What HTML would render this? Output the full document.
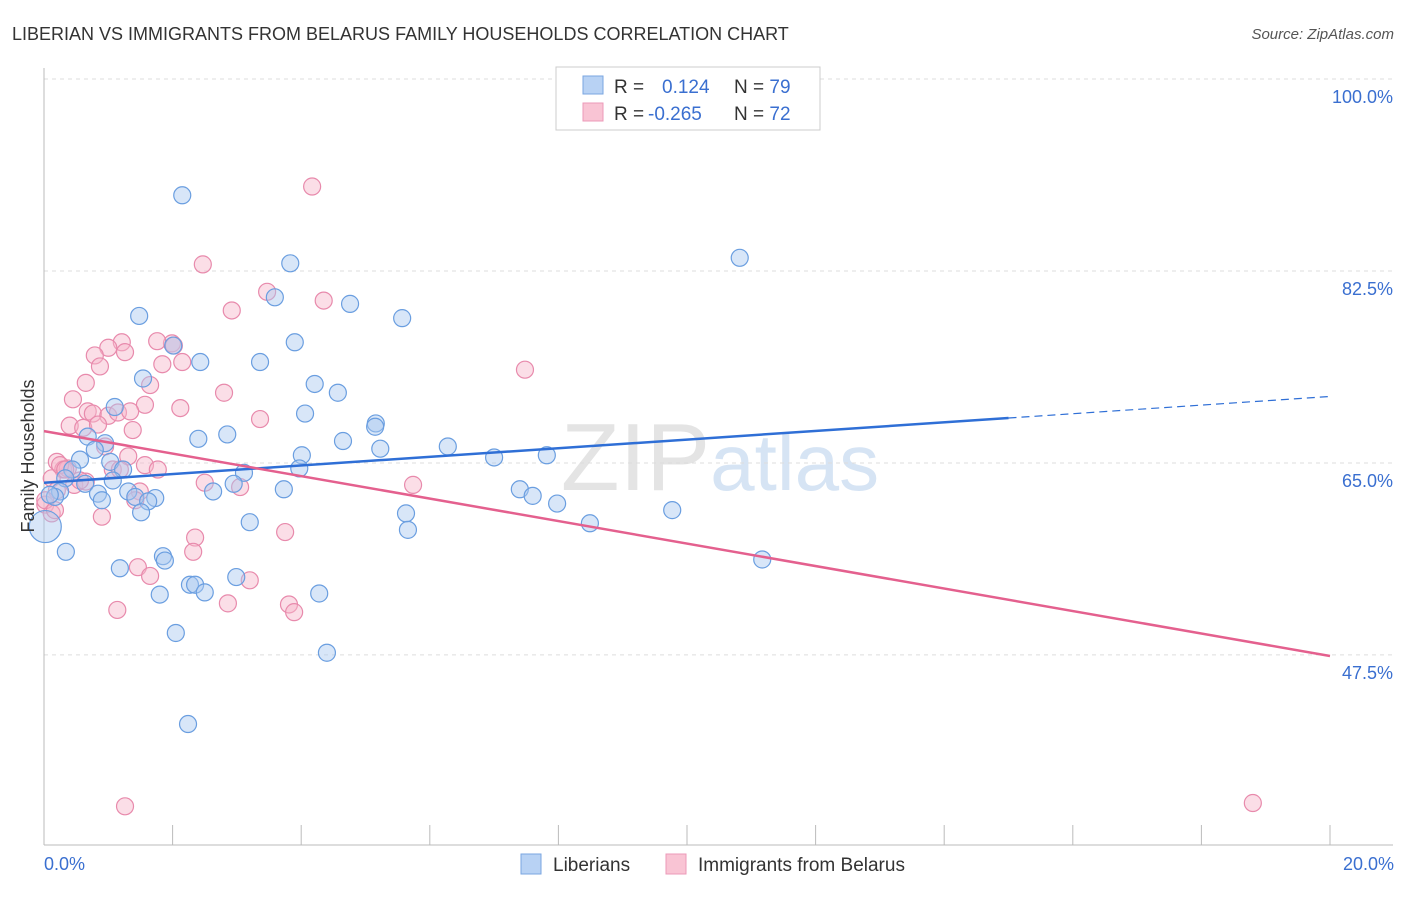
<!DOCTYPE html>
<html><head><meta charset="utf-8"><style>
body{margin:0;background:#fff;font-family:"Liberation Sans",sans-serif}
svg text{font-family:"Liberation Sans",sans-serif}
</style></head><body>
<svg id="chart" width="1406" height="892" xmlns="http://www.w3.org/2000/svg">
<text x="12" y="40" font-size="18" fill="#333">LIBERIAN VS IMMIGRANTS FROM BELARUS FAMILY HOUSEHOLDS CORRELATION CHART</text>
<text x="1394" y="39" font-size="15" fill="#555" text-anchor="end" font-style="italic">Source: ZipAtlas.com</text>
<text x="720" y="490" font-size="96" text-anchor="middle" fill="#e4e4e4" font-family="Liberation Serif"><tspan>ZIP</tspan><tspan fill="#d6e4f4" font-family="Liberation Sans" font-size="80">atlas</tspan></text>
<g id="grid"></g>
<g id="axes"></g>
<g id="points"></g>
<g id="trends"></g>
<text transform="translate(34,456) rotate(-90)" font-size="18" fill="#333" text-anchor="middle">Family Households</text>
<text x="44" y="870" font-size="18" fill="#3a6fd0">0.0%</text>
<text x="1394" y="870" font-size="18" fill="#3a6fd0" text-anchor="end">20.0%</text>
<g>
<rect x="556" y="67" width="264" height="63" fill="#fff" stroke="#ccc"/>
<rect x="583" y="76" width="20" height="18" fill="#b8d2f4" stroke="#7aa6e0"/>
<rect x="583" y="103" width="20" height="18" fill="#f9c4d4" stroke="#ec9ab8"/>
<text x="614" y="93" font-size="19" fill="#333">R = <tspan fill="#3a6fd0" x="662">0.124</tspan><tspan x="734">N = </tspan><tspan fill="#3a6fd0">79</tspan></text>
<text x="614" y="120" font-size="19" fill="#333">R = <tspan fill="#3a6fd0" x="648">-0.265</tspan><tspan x="734">N = </tspan><tspan fill="#3a6fd0">72</tspan></text>
</g>
<g>
<rect x="521" y="854" width="20" height="20" fill="#b8d2f4" stroke="#7aa6e0"/>
<text x="553" y="871" font-size="19" fill="#333">Liberians</text>
<rect x="666" y="854" width="20" height="20" fill="#f9c4d4" stroke="#ec9ab8"/>
<text x="698" y="871" font-size="19" fill="#333">Immigrants from Belarus</text>
</g>
</svg>
<script>
const yTicks=[100,82.5,65,47.5];
const yTickLabels=["100.0%","82.5%","65.0%","47.5%"];
const xTicks=[0,2,4,6,8,10,12,14,16,18,20];
const blueX=[2.15,10.82,3.83,3.59,4.76,5.57,1.48,3.90,2.01,2.43,3.36,1.54,4.21,4.57,1.10,4.06,5.16,5.15,2.40,2.85,4.65,5.23,6.28,0.68,0.95,0.79,0.56,1.03,4.01,7.00,7.82,3.97,3.11,1.23,0.44,0.33,0.64,1.07,2.95,3.73,2.63,1.31,1.42,1.73,1.62,0.84,0.90,0.25,0.17,0.09,7.40,7.60,7.98,5.63,1.51,9.77,3.20,8.49,5.66,0.34,1.85,1.88,1.18,11.17,2.99,2.27,2.35,2.50,1.80,4.28,2.05,4.40,2.24,0.02];
const blueY=[89.4,83.7,83.2,80.1,79.5,78.2,78.4,76.0,75.7,74.2,74.2,72.7,72.2,71.4,70.1,69.5,68.6,68.3,67.2,67.6,67.0,66.3,66.5,67.4,66.8,66.2,65.3,65.1,65.7,65.5,65.7,64.5,64.1,64.4,64.4,63.6,63.1,63.4,63.1,62.6,62.4,62.4,61.9,61.8,61.5,62.2,61.6,62.4,61.9,62.1,62.6,62.0,61.3,60.4,60.5,60.7,59.6,59.5,58.9,56.9,56.5,56.1,55.4,56.2,54.6,53.9,53.9,53.2,53.0,53.1,49.5,47.7,41.2,59.2];
const pinkX=[4.17,2.47,3.47,4.35,2.92,1.21,1.99,1.76,2.02,1.00,1.26,0.79,2.15,1.84,0.87,0.65,1.65,2.80,0.45,1.57,2.12,0.68,0.76,1.00,1.15,1.34,0.40,0.61,0.84,1.38,3.36,7.48,0.95,0.20,1.07,1.31,1.57,1.77,0.30,0.37,0.12,0.47,0.65,2.50,3.05,5.74,0.20,1.49,0.02,0.12,0.90,2.35,2.32,3.75,1.46,1.65,3.20,2.86,3.81,3.89,1.14,1.26,18.80,0.02,0.25,0.33,1.18,0.56,1.42,0.17];
const pinkY=[90.2,83.1,80.6,79.8,78.9,76.0,75.9,76.1,75.7,75.5,75.1,74.8,74.2,74.0,73.8,72.3,72.1,71.4,70.8,70.3,70.0,69.7,69.5,69.3,69.6,69.7,68.4,68.2,68.5,68.0,69.0,73.5,66.5,65.1,64.4,65.6,64.8,64.4,64.4,64.5,63.6,63.0,63.3,63.2,62.8,63.0,62.5,62.4,61.2,60.4,60.1,58.2,56.9,58.7,55.5,54.7,54.3,52.2,52.1,51.4,51.6,33.7,34.0,61.6,64.8,64.4,64.4,63.4,61.6,60.7];
const blueTrend=[63.2,71.06];
const pinkTrend=[67.9,47.4];
const NS="http://www.w3.org/2000/svg";
const X0=44,X1=1330;
function sx(v){return X0+(X1-X0)*v/20;}
function sy(v){return 79+(100-v)*10.97;}
function mk(tag,attrs,parent){const e=document.createElementNS(NS,tag);for(const k in attrs)e.setAttribute(k,attrs[k]);document.getElementById(parent).appendChild(e);return e;}
yTicks.forEach((t,i)=>{
  const l=mk('line',{x1:44,x2:1393,y1:sy(t),y2:sy(t),stroke:'#ddd','stroke-dasharray':'4,4'},'grid');
  
  
  const tx=mk('text',{x:1393,y:sy(t)+24,'font-size':18,fill:'#3a6fd0','text-anchor':'end'},'grid');
  tx.textContent=yTickLabels[i];
  
  
});
let a=mk('line',{x1:44,x2:44,y1:68,y2:845,stroke:'#bbb'},'axes');


a=mk('line',{x1:44,x2:1393,y1:845,y2:845,stroke:'#bbb'},'axes');


xTicks.forEach(t=>{
  const l=mk('line',{x1:sx(t),x2:sx(t),y1:825,y2:845,stroke:'#bbb'},'axes');
  
  
});
function pts(xs,ys,fill,stroke,name){
  xs.forEach((x,i)=>{
    const big=(name==='liberian-point'&&i===xs.length-1);
    const c=mk('circle',{cx:sx(x),cy:sy(ys[i]),r:big?16:8.5,fill:fill,'fill-opacity':0.45,stroke:stroke,'stroke-width':1.2},'points');
    
    
  });
}
pts(pinkX,pinkY,'#f6b6ca','#e88aac','belarus-point');
pts(blueX,blueY,'#a8c8f0','#6a9ee0','liberian-point');
const bEnd=15,bSlope=(blueTrend[1]-blueTrend[0])/20;
let t=mk('line',{x1:sx(0),y1:sy(blueTrend[0]),x2:sx(bEnd),y2:sy(blueTrend[0]+bSlope*bEnd),stroke:'#2f6fd6','stroke-width':2.5},'trends');


t=mk('line',{x1:sx(bEnd),y1:sy(blueTrend[0]+bSlope*bEnd),x2:sx(20),y2:sy(blueTrend[1]),stroke:'#2f6fd6','stroke-width':1.2,'stroke-dasharray':'8,5'},'trends');


t=mk('line',{x1:sx(0),y1:sy(pinkTrend[0]),x2:sx(20),y2:sy(pinkTrend[1]),stroke:'#e4608e','stroke-width':2.5},'trends');


</script>
</body></html>
